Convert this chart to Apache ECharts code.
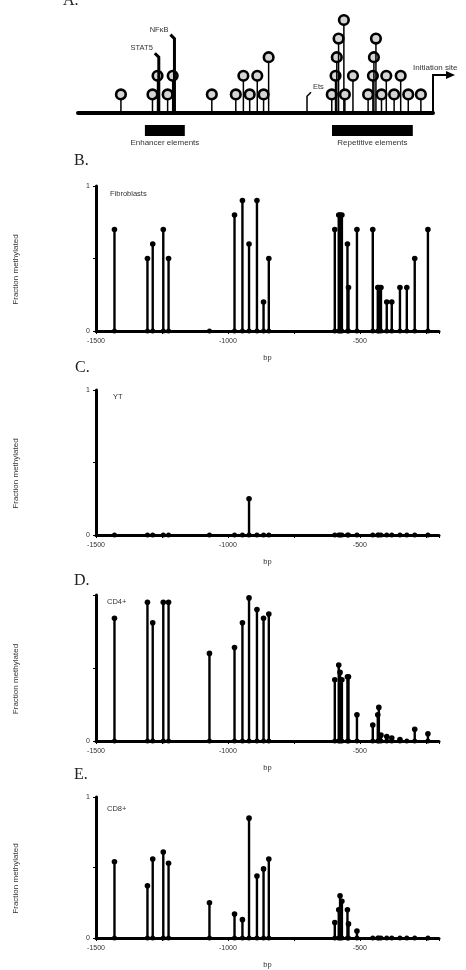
<!DOCTYPE html>
<html>
<head>
<meta charset="utf-8">
<script src="https://cdn.jsdelivr.net/npm/echarts@6/dist/echarts.min.js"></script>
<style>
  html, body { margin: 0; padding: 0; background: #fff; }
  #chart { width: 466px; height: 970px; }
</style>
</head>
<body>
<div id="chart"></div>
<script>
// CpG sites, bp relative to the initiation site
const sites = [-1430, -1305, -1285, -1245, -1225, -1070, -975, -945, -920, -890, -865, -845,
  -595, -580, -575, -568, -547, -543, -511, -451, -432, -428, -420, -398, -379, -348, -322, -292, -242];

// fraction methylated per site
const fibroblasts = [0.7, 0.5, 0.6, 0.7, 0.5, 0, 0.8, 0.9, 0.6, 0.9, 0.2, 0.5,
  0.7, 0.8, 0.8, 0.8, 0.6, 0.3, 0.7, 0.7, 0.3, 0.3, 0.3, 0.2, 0.2, 0.3, 0.3, 0.5, 0.7];
const yt = [0, 0, 0, 0, 0, 0, 0, 0, 0.25, 0, 0, 0,
  0, 0, 0, 0, 0, 0, 0, 0, 0, 0, 0, 0, 0, 0, 0, 0, 0];
const cd4 = [0.84, 0.95, 0.81, 0.95, 0.95, 0.6, 0.64, 0.81, 0.98, 0.9, 0.84, 0.87,
  0.42, 0.52, 0.47, 0.42, 0.44, 0.44, 0.18, 0.11, 0.18, 0.23, 0.04, 0.03, 0.02, 0.01, 0, 0.08, 0.05];
const cd8 = [0.54, 0.37, 0.56, 0.61, 0.53, 0.25, 0.17, 0.13, 0.85, 0.44, 0.49, 0.56,
  0.11, 0.2, 0.3, 0.26, 0.2, 0.1, 0.05, 0, 0, 0, 0, 0, 0, 0, 0, 0, 0];

// promoter map (panel A): stack level of each CpG circle
const mapLevels = [1, 1, 2, 1, 2, 1, 1, 2, 1, 2, 1, 3,
  1, 2, 3, 4, 5, 1, 2, 1, 2, 3, 4, 1, 2, 1, 2, 1, 1];
const motifNames = ["STAT5", "NFκB", "Ets"];
const motifSites = [-1280, -1218, -693];
const motifHeights = [3, 4, 0.9];
const elementNames = ["Enhancer elements", "Repetitive elements"];
const elementStart = [-1335, -594];
const elementEnd = [-1177, -274];
const initiationSite = -194;

const panelNames = ["Fibroblasts", "YT", "CD4+", "CD8+"];
const panelValues = [fibroblasts, yt, cd4, cd8];

const chart = echarts.init(document.getElementById("chart"));
const font = "Liberation Sans, Arial, sans-serif";

function stemItem(params, api) {
  const v = api.value(1);
  const base = api.coord([api.value(0), 0]);
  const top = api.coord([api.value(0), v]);
  const children = [];
  if (v > 0) {
    children.push({ type: "line", shape: { x1: base[0], y1: base[1], x2: top[0], y2: top[1] },
      style: { stroke: "#000", lineWidth: 2.4 } });
    children.push({ type: "circle", shape: { cx: top[0], cy: top[1], r: 2.8 }, style: { fill: "#000" } });
  }
  children.push({ type: "circle", shape: { cx: base[0], cy: base[1], r: 2.5 }, style: { fill: "#000" } });
  return { type: "group", children };
}

function lollipopItem(params, api) {
  const base = api.coord([api.value(0), 0]);
  const top = api.coord([api.value(0), api.value(1)]);
  return { type: "group", children: [
    { type: "line", shape: { x1: base[0], y1: base[1], x2: top[0], y2: top[1] }, style: { stroke: "#000", lineWidth: 1.5 } },
    { type: "circle", shape: { cx: top[0], cy: top[1], r: 4.8 }, style: { fill: "#d4d4d4", stroke: "#000", lineWidth: 2.6 } }
  ] };
}

function motifItem(params, api) {
  const i = params.dataIndex;
  const base = api.coord([api.value(0), 0]);
  const top = api.coord([api.value(0), api.value(1)]);
  const dir = i === 2 ? 1 : -1;
  return { type: "group", children: [
    { type: "polyline", shape: { points: [[base[0], base[1]], [top[0], top[1]], [top[0] + dir * 4, top[1] - 4]] },
      style: { stroke: "#000", fill: null, lineWidth: i === 2 ? 1.5 : 3 } },
    { type: "text", x: top[0] + dir * 6, y: top[1] - 5,
      style: { text: motifNames[i], fill: "#333", font: "7.5px " + font, align: dir > 0 ? "left" : "right", verticalAlign: "bottom" } }
  ] };
}

function elementItem(params, api) {
  const i = params.dataIndex;
  const a = api.coord([api.value(0), 0]);
  const b = api.coord([api.value(1), 0]);
  return { type: "group", children: [
    { type: "rect", shape: { x: a[0], y: a[1] + 12, width: b[0] - a[0], height: 11 }, style: { fill: "#000" } },
    { type: "text", x: (a[0] + b[0]) / 2, y: a[1] + 30,
      style: { text: elementNames[i], fill: "#333", font: "8px " + font, align: "center", verticalAlign: "middle" } }
  ] };
}

function initiationItem(params, api) {
  const p = api.coord([api.value(0), 0]);
  const y = p[1] - 38;
  return { type: "group", children: [
    { type: "polyline", shape: { points: [[p[0], p[1]], [p[0], y], [p[0] + 14, y]] }, style: { stroke: "#000", fill: null, lineWidth: 2 } },
    { type: "polygon", shape: { points: [[p[0] + 13, y - 4], [p[0] + 22, y], [p[0] + 13, y + 4]] }, style: { fill: "#000" } },
    { type: "text", x: p[0] - 20, y: y - 7,
      style: { text: "Initiation site", fill: "#333", font: "8px " + font, align: "left", verticalAlign: "middle" } }
  ] };
}

const grids = [
  { left: 78, top: 20, width: 355, height: 93 },
  { left: 96, top: 186, width: 343, height: 145 },
  { left: 96, top: 390, width: 343, height: 145 },
  { left: 96, top: 595, width: 343, height: 146 },
  { left: 96, top: 797, width: 343, height: 144 }
];

const xAxes = [{
  gridIndex: 0, type: "value", min: -1600, max: initiationSite,
  axisLine: { show: true, lineStyle: { color: "#000", width: 4, cap: "round" } },
  axisTick: { show: false }, axisLabel: { show: false }, splitLine: { show: false }
}];
const yAxes = [{ gridIndex: 0, type: "value", min: 0, max: 5, show: false }];
const series = [
  { type: "custom", xAxisIndex: 0, yAxisIndex: 0, renderItem: lollipopItem,
    data: sites.map((s, i) => [s, mapLevels[i]]) },
  { type: "custom", xAxisIndex: 0, yAxisIndex: 0, renderItem: motifItem,
    data: motifSites.map((s, i) => [s, motifHeights[i]]) },
  { type: "custom", xAxisIndex: 0, yAxisIndex: 0, renderItem: elementItem,
    data: elementStart.map((s, i) => [s, elementEnd[i]]) },
  { type: "custom", xAxisIndex: 0, yAxisIndex: 0, renderItem: initiationItem,
    data: [[initiationSite, 0]] }
];

panelValues.forEach((vals, k) => {
  const g = k + 1;
  xAxes.push({
    gridIndex: g, type: "value", min: -1500, max: -200, interval: 250,
    name: "bp", nameLocation: "middle", nameGap: 23,
    nameTextStyle: { fontSize: 7.5, color: "#333", fontFamily: font },
    axisLine: { lineStyle: { color: "#000", width: 3 } },
    axisTick: { show: true, length: 3, lineStyle: { color: "#000", width: 1 } },
    axisLabel: { fontSize: 7, color: "#333", fontFamily: font, margin: 7,
      formatter: v => (v % 500 === 0 ? String(v) : "") },
    splitLine: { show: false }
  });
  yAxes.push({
    gridIndex: g, type: "value", min: 0, max: 1, interval: 0.5,
    name: "Fraction methylated", nameLocation: "middle", nameGap: 76, nameRotate: 90,
    nameTextStyle: { fontSize: 8, color: "#333", fontFamily: font, padding: [0, 22, 0, 0] },
    axisLine: { show: true, lineStyle: { color: "#000", width: 3 } },
    axisTick: { show: true, length: 3, lineStyle: { color: "#000", width: 1 } },
    axisLabel: { fontSize: 7, color: "#333", fontFamily: font, margin: 6,
      formatter: v => (v === 0 ? "0" : (v === 1 && k !== 2 ? "1" : "")) },
    splitLine: { show: false }
  });
  series.push({
    type: "custom", name: panelNames[k], xAxisIndex: g, yAxisIndex: g,
    renderItem: stemItem, data: sites.map((s, i) => [s, vals[i]])
  });
});

const letter = (text, left, top) => ({ text, left, top, padding: 0,
  textStyle: { fontFamily: "Liberation Serif, Times New Roman, serif", fontSize: 16, fontWeight: "normal", color: "#222" } });
const tag = (text, left, top) => ({ text, left, top, padding: 0,
  textStyle: { fontFamily: font, fontSize: 7.5, fontWeight: "normal", color: "#333" } });

chart.setOption({
  backgroundColor: "#fff",
  animation: false,
  title: [
    letter("A.", 63, -7), letter("B.", 74, 153), letter("C.", 75, 360),
    letter("D.", 74, 573), letter("E.", 74, 767),
    tag(panelNames[0], 110, 190), tag(panelNames[1], 113, 393),
    tag(panelNames[2], 107, 598), tag(panelNames[3], 107, 805)
  ],
  grid: grids,
  xAxis: xAxes,
  yAxis: yAxes,
  series: series
});
</script>
</body>
</html>
